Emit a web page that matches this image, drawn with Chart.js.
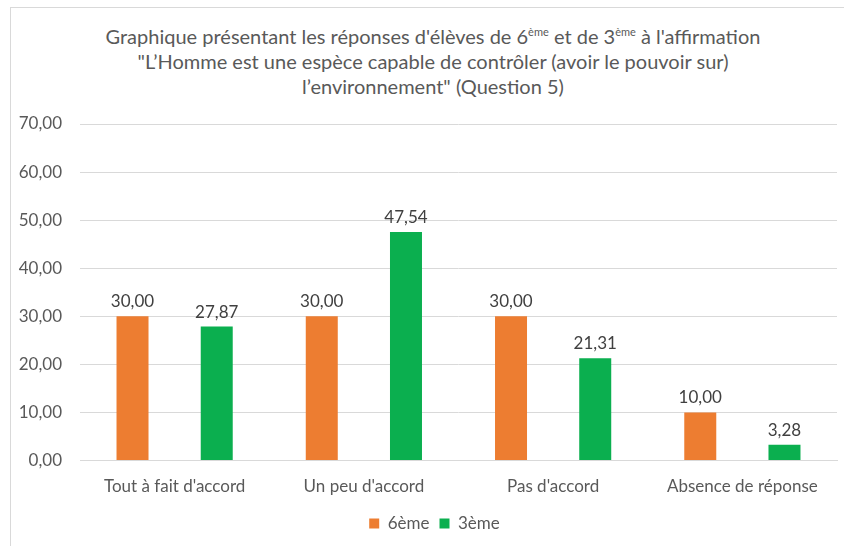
<!DOCTYPE html>
<html>
<head>
<meta charset="utf-8">
<script src="https://cdn.jsdelivr.net/npm/chart.js@4"></script>
<style>
  html, body { margin: 0; padding: 0; background: #fff; overflow: hidden; }
  #wrap { position: relative; width: 844px; height: 546px; }
  #cadre { position: absolute; left: 10px; top: 7px; width: 860px; height: 560px; border: 1px solid #d9d9d9; box-sizing: border-box; }
  #titre { position: absolute; left: 10px; top: 24px; width: 846px; text-align: center;
           font-family: Lato, sans-serif; font-size: 20px; line-height: 25px; color: #595959; }
  #titre sup { font-size: 11px; vertical-align: 8px; line-height: 0; }
  canvas { position: absolute; left: 0; top: 0; }
</style>
</head>
<body>
<div id="wrap">
  <div id="cadre"></div>
  <div id="titre">Graphique présentant les réponses d'élèves de 6<sup>ème</sup> et de 3<sup>ème</sup> à l'affirmation<br>"L’Homme est une espèce capable de contrôler (avoir le pouvoir sur)<br>l’environnement" (Question 5)</div>
  <canvas id="myChart" width="844" height="546"></canvas>
</div>
<script>
// données
var categories = ["Tout à fait d'accord", "Un peu d'accord", "Pas d'accord", "Absence de réponse"];
var serie6 = [30.00, 30.00, 30.00, 10.00];
var serie3 = [27.87, 47.54, 21.31, 3.28];
var nomsSeries = ['6ème', '3ème'];
var yMin = 0, yMax = 70, yPas = 10;

function virgule(v) {
    return v.toFixed(2).replace('.', ',');
}

// étiquettes de valeurs au-dessus des barres
var etiquettes = {
    id: 'etiquettes',
    afterLayout: function(chart) {
        // la légende est centrée sur le cadre, pas sur le canvas
        chart.legend.left += 16;
        chart.legend.right += 16;
    },
    afterDatasetsDraw: function(chart) {
        var ctx = chart.ctx;
        ctx.save();
        ctx.font = '17px Lato, sans-serif';
        ctx.fillStyle = '#404040';
        ctx.textAlign = 'center';
        ctx.textBaseline = 'bottom';
        chart.data.datasets.forEach(function(ds, i) {
            chart.getDatasetMeta(i).data.forEach(function(bar, j) {
                ctx.fillText(virgule(ds.data[j]), bar.x, bar.y - 6);
            });
        });
        ctx.restore();
    }
};

var ctx = document.getElementById('myChart').getContext('2d');
var chart = new Chart(ctx, {
    type: 'bar',
    data: {
        labels: categories,
        datasets: [
            { label: nomsSeries[0], data: serie6, backgroundColor: '#ED7D31', categoryPercentage: 0.89, barPercentage: 0.38 },
            { label: nomsSeries[1], data: serie3, backgroundColor: '#0BAF4F', categoryPercentage: 0.89, barPercentage: 0.38 }
        ]
    },
    options: {
        responsive: false,
        animation: false,
        layout: { padding: { left: 0, right: 7, top: 124, bottom: 4 } },
        plugins: {
            title: { display: false },
            tooltip: { enabled: false },
            legend: {
                position: 'bottom',
                labels: {
                    boxWidth: 10, boxHeight: 10, padding: 10,
                    color: '#595959',
                    font: { family: 'Lato, sans-serif', size: 17 }
                }
            }
        },
        scales: {
            x: {
                grid: { display: false },
                border: { color: '#d9d9d9' },
                ticks: { color: '#595959', padding: 8, font: { family: 'Lato, sans-serif', size: 17 } }
            },
            y: {
                min: yMin, max: yMax,
                afterFit: function(scale) { scale.width = 80; },
                border: { display: false },
                grid: { color: '#d9d9d9', drawTicks: false },
                ticks: {
                    stepSize: yPas, padding: 18, color: '#595959',
                    font: { family: 'Lato, sans-serif', size: 17 },
                    callback: function(value) { return virgule(value); }
                }
            }
        }
    },
    plugins: [etiquettes]
});
</script>
</body>
</html>
